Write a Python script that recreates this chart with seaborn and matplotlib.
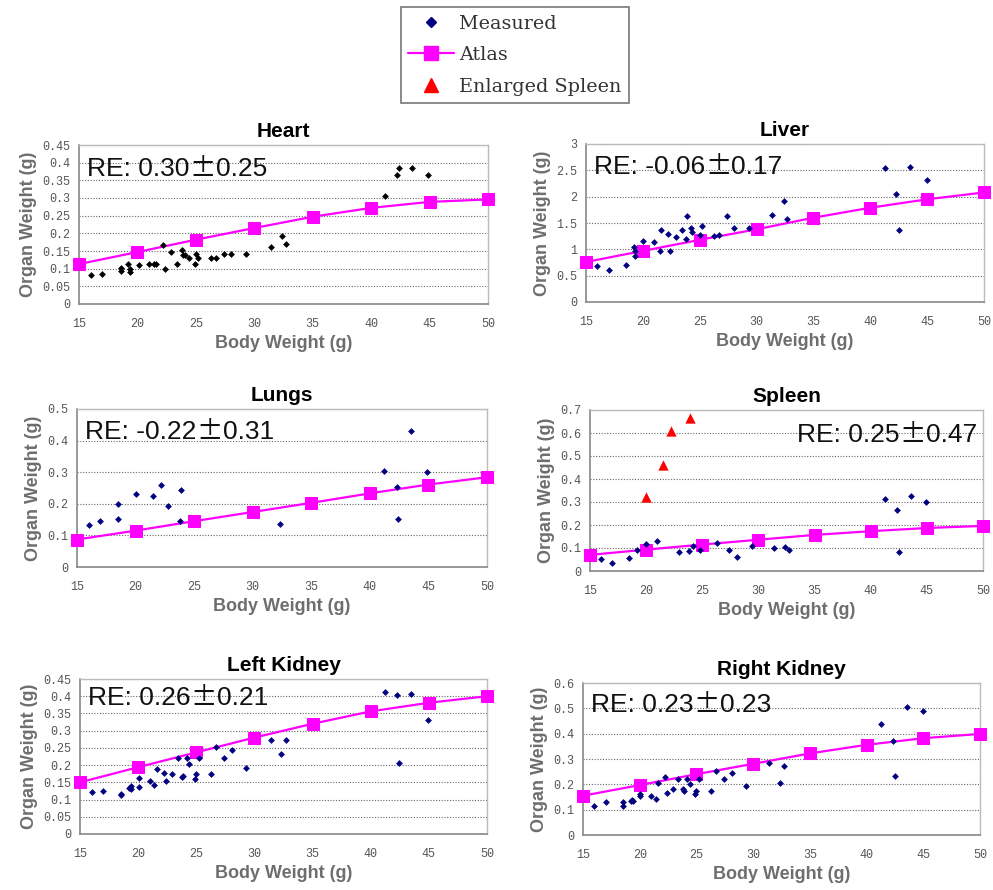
import numpy as np
import pandas as pd
import matplotlib
matplotlib.use("Agg")
import matplotlib.pyplot as plt
from matplotlib.lines import Line2D
from matplotlib.ticker import MultipleLocator, FuncFormatter
from matplotlib.transforms import offset_copy
import seaborn as sns

sns.set_style("white")
plt.rcParams["font.family"] = ["Liberation Sans", "DejaVu Sans"]

# ── data ────────────────────────────────────────────────────────────────────
atlas_bw = [15, 20, 25, 30, 35, 40, 45, 50]

heart_bw = [16.0, 17.0, 18.6, 18.6, 19.2, 19.4, 19.4, 20.1, 21.0, 21.4, 21.6, 22.2,
            22.4, 22.9, 23.4, 23.8, 23.9, 24.1, 24.4, 24.9, 25.0, 25.2, 26.3, 26.7,
            27.4, 28.0, 29.3, 31.4, 32.4, 32.7, 41.2, 42.2, 42.4, 43.5, 44.9]
heart_ow = [0.081, 0.085, 0.103, 0.092, 0.113, 0.100, 0.090, 0.111, 0.113, 0.113,
            0.113, 0.168, 0.100, 0.148, 0.113, 0.154, 0.138, 0.140, 0.130, 0.112,
            0.142, 0.130, 0.130, 0.130, 0.141, 0.141, 0.141, 0.160, 0.192, 0.170,
            0.307, 0.364, 0.386, 0.385, 0.364]
heart_atlas = [0.113, 0.147, 0.182, 0.215, 0.247, 0.272, 0.289, 0.296]

liver_bw = [16.0, 17.0, 18.5, 19.2, 19.3, 19.3, 20.0, 21.0, 21.5, 21.6, 22.2, 22.4,
            22.9, 23.4, 23.8, 23.9, 24.2, 24.3, 25.0, 25.2, 26.3, 26.7, 27.4, 28.0,
            29.3, 31.4, 32.4, 32.7, 41.3, 42.3, 42.5, 43.5, 45.0]
liver_ow = [0.68, 0.60, 0.70, 1.04, 0.96, 0.88, 1.16, 1.13, 0.96, 1.37, 1.30, 0.96,
            1.24, 1.37, 1.20, 1.63, 1.41, 1.33, 1.27, 1.45, 1.26, 1.28, 1.63, 1.40,
            1.40, 1.65, 1.91, 1.58, 2.54, 2.05, 1.37, 2.57, 2.31]
liver_atlas = [0.76, 0.97, 1.18, 1.38, 1.60, 1.79, 1.95, 2.08]

lungs_bw = [16.0, 17.0, 18.5, 18.5, 20.0, 21.5, 22.2, 22.8, 23.8, 23.9, 32.3, 41.2,
            42.3, 42.4, 43.5, 44.9]
lungs_ow = [0.134, 0.147, 0.198, 0.153, 0.230, 0.225, 0.260, 0.193, 0.147, 0.245,
            0.137, 0.304, 0.252, 0.151, 0.430, 0.301]
lungs_atlas = [0.087, 0.115, 0.145, 0.174, 0.203, 0.233, 0.261, 0.284]

spleen_bw = [16.0, 17.0, 18.5, 19.2, 20.0, 21.0, 22.9, 23.8, 24.2, 24.8, 26.3, 27.4,
             28.1, 29.4, 31.4, 32.4, 32.7, 41.3, 42.3, 42.5, 43.6, 44.9]
spleen_ow = [0.051, 0.036, 0.055, 0.090, 0.119, 0.132, 0.084, 0.087, 0.110, 0.090,
             0.120, 0.090, 0.061, 0.110, 0.100, 0.104, 0.090, 0.313, 0.266, 0.082,
             0.327, 0.300]
spleen_atlas = [0.070, 0.093, 0.115, 0.136, 0.157, 0.173, 0.187, 0.196]
enlarged_bw = [20.0, 21.5, 22.2, 23.9]
enlarged_ow = [0.32, 0.46, 0.61, 0.667]

lkid_bw = [16.0, 17.0, 18.5, 18.5, 19.2, 19.4, 19.4, 20.1, 20.1, 21.0, 21.4, 21.6,
           22.2, 22.4, 22.9, 23.4, 23.8, 23.9, 24.2, 24.4, 24.9, 25.0, 25.2, 26.3,
           26.7, 27.4, 28.1, 29.3, 31.4, 32.3, 32.7, 41.2, 42.3, 42.4, 43.5, 44.9]
lkid_ow = [0.121, 0.125, 0.117, 0.112, 0.133, 0.140, 0.132, 0.137, 0.163, 0.153,
           0.143, 0.190, 0.178, 0.153, 0.173, 0.222, 0.166, 0.167, 0.222, 0.203,
           0.160, 0.173, 0.222, 0.173, 0.254, 0.222, 0.243, 0.193, 0.274, 0.233,
           0.274, 0.412, 0.403, 0.205, 0.407, 0.332]
lkid_atlas = [0.150, 0.194, 0.237, 0.280, 0.320, 0.356, 0.381, 0.400]

rkid_bw = [16.0, 17.0, 18.5, 18.5, 19.2, 19.3, 19.4, 20.0, 20.0, 21.0, 21.4, 21.6,
           22.2, 22.4, 22.9, 23.4, 23.8, 23.9, 24.2, 24.4, 24.9, 25.0, 25.2, 26.3,
           26.7, 27.4, 28.1, 29.4, 31.4, 32.4, 32.7, 41.3, 42.3, 42.5, 43.6, 45.0]
rkid_ow = [0.115, 0.130, 0.129, 0.114, 0.134, 0.140, 0.135, 0.161, 0.154, 0.154,
           0.142, 0.205, 0.230, 0.164, 0.182, 0.223, 0.182, 0.175, 0.223, 0.202,
           0.163, 0.172, 0.222, 0.173, 0.253, 0.223, 0.243, 0.193, 0.284, 0.207,
           0.273, 0.437, 0.372, 0.231, 0.504, 0.488]
rkid_atlas = [0.155, 0.197, 0.240, 0.281, 0.322, 0.356, 0.382, 0.399]

# relative error (mean, sd) shown in each panel
re_mean = ["0.30", "-0.06", "-0.22", "0.25", "0.26", "0.23"]
re_sd = ["0.25", "0.17", "0.31", "0.47", "0.21", "0.23"]

# panel: title, measured x/y, atlas y, ymax, ystep, pixel box (l, t, r, b), dot colour, RE side, RE y
panels = [
    ("Heart", heart_bw, heart_ow, heart_atlas, 0.45, 0.05,
     (79, 145, 488, 304), "black", "left", 0.86),
    ("Liver", liver_bw, liver_ow, liver_atlas, 3.0, 0.5,
     (586, 144, 984, 302), "#000080", "left", 0.87),
    ("Lungs", lungs_bw, lungs_ow, lungs_atlas, 0.5, 0.1,
     (77, 409, 487, 567), "#000080", "left", 0.87),
    ("Spleen", spleen_bw, spleen_ow, spleen_atlas, 0.7, 0.1,
     (590, 410, 983, 571), "#000080", "right", 0.86),
    ("Left Kidney", lkid_bw, lkid_ow, lkid_atlas, 0.45, 0.05,
     (80, 679, 487, 834), "#000080", "left", 0.89),
    ("Right Kidney", rkid_bw, rkid_ow, rkid_atlas, 0.6, 0.1,
     (583, 683, 980, 835), "#000080", "left", 0.87),
]

W, H = 993, 890
fig = plt.figure(figsize=(W / 100, H / 100), dpi=100)
renderer = fig.canvas.get_renderer()

tick_font = dict(family=["Liberation Mono", "DejaVu Sans Mono"], size=8.5, color="#555555")
fmt = FuncFormatter(lambda v, p: f"{v:g}")

for i, (title, bw, ow, atlas, ymax, ystep, (l, t, r, b), dot_c, side, re_y) in enumerate(panels):
    ax = fig.add_axes([l / W, 1 - b / H, (r - l) / W, (b - t) / H])
    df_m = pd.DataFrame({"bw": bw, "ow": ow})
    df_a = pd.DataFrame({"bw": atlas_bw, "ow": atlas})

    sns.lineplot(data=df_a, x="bw", y="ow", ax=ax, color="#ff00ff", linewidth=1.6,
                 marker="s", markersize=8, markeredgecolor="#ff00ff", zorder=3,
                 clip_on=False)
    sns.scatterplot(data=df_m, x="bw", y="ow", ax=ax, color=dot_c, marker="D",
                    s=12, linewidth=0, zorder=4)
    if title == "Spleen":
        df_e = pd.DataFrame({"bw": enlarged_bw, "ow": enlarged_ow})
        sns.scatterplot(data=df_e, x="bw", y="ow", ax=ax, color="#ff0000", marker="^",
                        s=55, linewidth=0, zorder=4)

    ax.set_xlim(15, 50)
    ax.set_ylim(0, ymax)
    ax.xaxis.set_major_locator(MultipleLocator(5))
    ax.yaxis.set_major_locator(MultipleLocator(ystep))
    ax.xaxis.set_major_formatter(fmt)
    ax.yaxis.set_major_formatter(fmt)
    ax.yaxis.grid(True, linestyle=(0, (1, 1.5)), color="#666666", linewidth=0.8)
    ax.xaxis.grid(False)
    ax.tick_params(axis="both", direction="in", length=3, width=0.8, color="#888888",
                   pad=6)
    for lab in ax.get_xticklabels() + ax.get_yticklabels():
        lab.set_fontfamily(tick_font["family"])
        lab.set_fontsize(tick_font["size"])
        lab.set_color(tick_font["color"])
    ax.tick_params(axis="x", pad=10)

    for s in ["left", "bottom"]:
        ax.spines[s].set_color("#888888")
        ax.spines[s].set_linewidth(1.2)
    for s in ["top", "right"]:
        ax.spines[s].set_color("#bbbbbb")
        ax.spines[s].set_linewidth(1.0)

    ax.set_title(title, fontsize=15, fontweight="bold", color="black", pad=6)
    ax.set_xlabel("Body Weight (g)", fontsize=13, fontweight="bold", color="#6e6e6e",
                  labelpad=4)
    ax.set_ylabel("Organ Weight (g)", fontsize=13, fontweight="bold", color="#6e6e6e",
                  labelpad=4)

    # RE label: sans digits with a full-width plus-minus sign in between
    parts = [(f"RE: {re_mean[i]}", ["Liberation Sans"]),
             ("\u00b1", ["Noto Sans CJK SC", "DejaVu Sans"]),
             (re_sd[i], ["Liberation Sans"])]
    x0 = 0.02 if side == "left" else 0.985
    texts, widths = [], []
    for s, fam in parts:
        tx = ax.text(x0, re_y, s, transform=ax.transAxes, fontsize=19, family=fam,
                     ha="left", va="baseline", color="#111111", zorder=5)
        texts.append(tx)
        widths.append(tx.get_window_extent(renderer).width)
    start = 0.0 if side == "left" else -sum(widths)
    for tx, w in zip(texts, widths):
        tx.set_transform(offset_copy(ax.transAxes, fig=fig, x=start, y=-9, units="dots"))
        start += w

handles = [
    Line2D([], [], linestyle="none", marker="D", markersize=5, color="#000080"),
    Line2D([], [], color="#ff00ff", linewidth=1.6, marker="s", markersize=10),
    Line2D([], [], linestyle="none", marker="^", markersize=10, color="#ff0000"),
]
leg = fig.legend(handles, ["Measured", "Atlas", "Enlarged Spleen"],
                 loc="upper center", bbox_to_anchor=(515 / W, 1 - 7 / H),
                 prop={"family": ["DejaVu Serif"], "size": 13.8},
                 frameon=True, fancybox=False, edgecolor="#555555",
                 borderpad=0.4, labelspacing=0.7, handlelength=2.4,
                 handletextpad=0.25, borderaxespad=0)
leg.get_frame().set_linewidth(1.2)
for txt in leg.get_texts():
    txt.set_color("#333333")

fig.savefig("out.png", dpi=100, facecolor="white")
